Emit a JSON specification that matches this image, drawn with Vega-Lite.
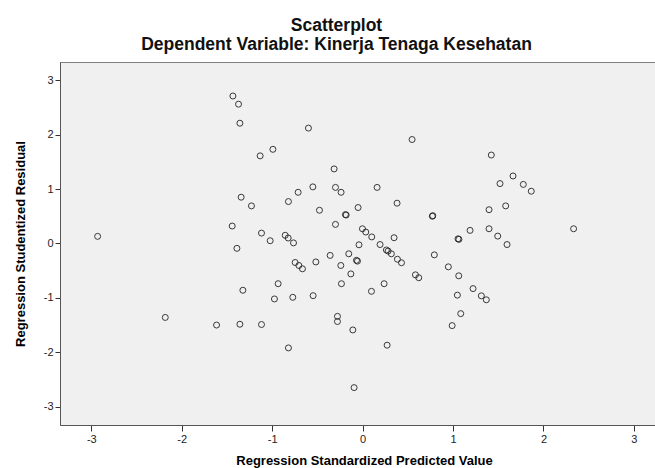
{
  "$schema": "https://vega.github.io/schema/vega-lite/v6.json",
  "width": 595,
  "height": 363,
  "autosize": {"type": "none"},
  "padding": {"left": 60, "top": 62, "right": 0, "bottom": 43},
  "background": "white",
  "title": {
    "text": "Scatterplot",
    "subtitle": "Dependent Variable: Kinerja Tenaga Kesehatan",
    "anchor": "middle",
    "frame": "group",
    "dx": -21,
    "font": "Liberation Sans",
    "fontSize": 17.5,
    "fontWeight": "bold",
    "color": "#111111",
    "subtitleFont": "Liberation Sans",
    "subtitleFontSize": 17.5,
    "subtitleFontWeight": "bold",
    "subtitleColor": "#111111",
    "subtitlePadding": 1.5,
    "offset": 9
  },
  "config": {
    "view": {"fill": "#f0f0f0", "stroke": "#808080", "strokeWidth": 1},
    "axis": {
      "grid": false,
      "domainColor": "#555555",
      "tickColor": "#333333",
      "tickSize": 6,
      "labelFont": "Liberation Sans",
      "labelFontSize": 11,
      "labelColor": "#222222",
      "titleFont": "Liberation Sans",
      "titleFontSize": 13,
      "titleFontWeight": "bold",
      "titleColor": "#000000"
    }
  },
  "data": {
    "values": [
      {"pred": -2.93, "resid": 0.13},
      {"pred": -1.434, "resid": 2.71},
      {"pred": -1.372, "resid": 2.56},
      {"pred": -1.357, "resid": 2.21},
      {"pred": -0.599, "resid": 2.12},
      {"pred": -0.992, "resid": 1.73},
      {"pred": -1.133, "resid": 1.61},
      {"pred": -0.315, "resid": 1.37},
      {"pred": -0.55, "resid": 1.04},
      {"pred": -0.3, "resid": 1.03},
      {"pred": -0.238, "resid": 0.94},
      {"pred": -0.713, "resid": 0.94},
      {"pred": -1.343, "resid": 0.85},
      {"pred": -1.229, "resid": 0.69},
      {"pred": -0.82, "resid": 0.77},
      {"pred": -0.477, "resid": 0.61},
      {"pred": -0.19, "resid": 0.53},
      {"pred": -0.182, "resid": 0.522},
      {"pred": -0.05, "resid": 0.66},
      {"pred": -0.3, "resid": 0.35},
      {"pred": -1.442, "resid": 0.32},
      {"pred": -1.118, "resid": 0.19},
      {"pred": -1.022, "resid": 0.05},
      {"pred": -0.856, "resid": 0.15},
      {"pred": -0.823, "resid": 0.1},
      {"pred": -0.764, "resid": 0.01},
      {"pred": -1.39, "resid": -0.09},
      {"pred": -0.04, "resid": -0.025},
      {"pred": -0.359, "resid": -0.22},
      {"pred": -0.153, "resid": -0.19},
      {"pred": -0.241, "resid": -0.405},
      {"pred": -0.13, "resid": -0.56},
      {"pred": -0.234, "resid": -0.74},
      {"pred": -0.068, "resid": -0.31},
      {"pred": -0.057, "resid": -0.325},
      {"pred": -0.746, "resid": -0.35},
      {"pred": -0.705, "resid": -0.405},
      {"pred": -0.665, "resid": -0.466},
      {"pred": -0.517, "resid": -0.34},
      {"pred": -0.934, "resid": -0.74},
      {"pred": -1.324, "resid": -0.86},
      {"pred": -0.975, "resid": -1.02},
      {"pred": -0.772, "resid": -0.99},
      {"pred": -0.547, "resid": -0.96},
      {"pred": -2.182, "resid": -1.36},
      {"pred": -1.615, "resid": -1.5},
      {"pred": -1.357, "resid": -1.485},
      {"pred": -1.118, "resid": -1.49},
      {"pred": -0.278, "resid": -1.34},
      {"pred": -0.278, "resid": -1.435},
      {"pred": -0.108, "resid": -1.59},
      {"pred": -0.82, "resid": -1.92},
      {"pred": -0.094, "resid": -2.65},
      {"pred": 0.547, "resid": 1.91},
      {"pred": 1.423, "resid": 1.625},
      {"pred": 1.663, "resid": 1.24},
      {"pred": 1.519, "resid": 1.1},
      {"pred": 1.777, "resid": 1.085},
      {"pred": 1.865, "resid": 0.96},
      {"pred": 0.16, "resid": 1.03},
      {"pred": 0.381, "resid": 0.74},
      {"pred": 1.398, "resid": 0.62},
      {"pred": 1.582, "resid": 0.69},
      {"pred": 0.771, "resid": 0.5},
      {"pred": 0.776, "resid": 0.51},
      {"pred": 2.333, "resid": 0.27},
      {"pred": 1.398, "resid": 0.27},
      {"pred": 1.494, "resid": 0.135},
      {"pred": 1.597, "resid": -0.02},
      {"pred": 1.188, "resid": 0.24},
      {"pred": 1.055, "resid": 0.085},
      {"pred": 1.065, "resid": 0.075},
      {"pred": 0.348, "resid": 0.105},
      {"pred": -0.002, "resid": 0.27},
      {"pred": 0.035, "resid": 0.21},
      {"pred": 0.101, "resid": 0.12},
      {"pred": 0.193, "resid": -0.02},
      {"pred": 0.263, "resid": -0.12},
      {"pred": 0.282, "resid": -0.14},
      {"pred": 0.318, "resid": -0.19},
      {"pred": 0.793, "resid": -0.21},
      {"pred": 0.385, "resid": -0.29},
      {"pred": 0.43, "resid": -0.355},
      {"pred": 0.098, "resid": -0.88},
      {"pred": 0.238, "resid": -0.74},
      {"pred": 0.584, "resid": -0.577},
      {"pred": 0.621, "resid": -0.63},
      {"pred": 0.948, "resid": -0.43},
      {"pred": 1.063, "resid": -0.595},
      {"pred": 1.221, "resid": -0.83},
      {"pred": 1.313, "resid": -0.963},
      {"pred": 1.368, "resid": -1.036},
      {"pred": 1.048, "resid": -0.95},
      {"pred": 1.085, "resid": -1.29},
      {"pred": 0.99, "resid": -1.51},
      {"pred": 0.271, "resid": -1.87}
    ]
  },
  "mark": {"type": "point", "shape": "circle", "filled": false, "size": 36, "stroke": "#1a1a1a", "strokeWidth": 1, "opacity": 0.85},
  "encoding": {
    "x": {
      "field": "pred",
      "type": "quantitative",
      "scale": {"domain": [-3.346, 3.233], "nice": false, "zero": false},
      "axis": {"values": [-3, -2, -1, 0, 1, 2, 3], "labelExpr": "toString(datum.value)", "title": "Regression Standardized Predicted Value", "titleX": 304, "titlePadding": 10, "labelPadding": 2}
    },
    "y": {
      "field": "resid",
      "type": "quantitative",
      "scale": {"domain": [-3.337, 3.335], "nice": false, "zero": false},
      "axis": {"values": [-3, -2, -1, 0, 1, 2, 3], "labelExpr": "toString(datum.value)", "title": "Regression Studentized Residual", "tickSize": 5, "labelPadding": 2, "titlePadding": 16}
    }
  }
}
